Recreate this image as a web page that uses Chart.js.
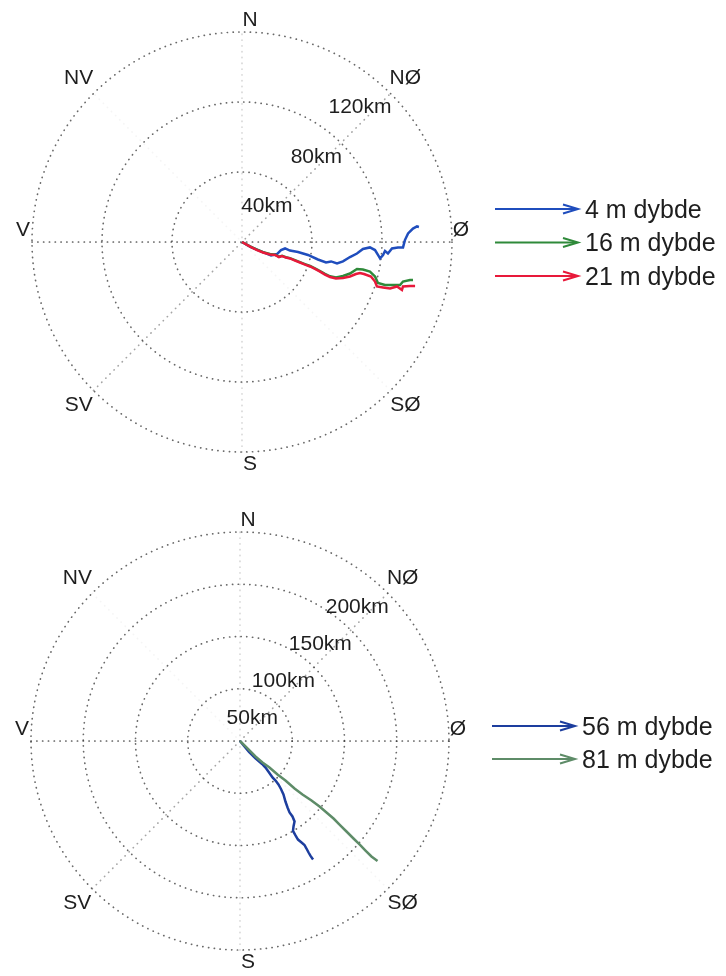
<!DOCTYPE html>
<html>
<head>
<meta charset="utf-8">
<script src="https://cdn.jsdelivr.net/npm/chart.js@4.4.1/dist/chart.umd.min.js"></script>
<style>
  html, body { margin: 0; padding: 0; background: #ffffff; }
  #wrap { position: relative; width: 726px; height: 976px; overflow: hidden; }
  canvas { position: absolute; left: 0; }
</style>
</head>
<body>
<div id="wrap">
  <canvas id="upper" width="726" height="490" style="top:0px"></canvas>
  <canvas id="lower" width="726" height="486" style="top:490px"></canvas>
</div>
<script>
// Compass directions, clockwise from north
const compassLabels = ['N', 'NØ', 'Ø', 'SØ', 'S', 'SV', 'V', 'NV'];

// ---- Upper panel: drift from the release point (km east, km north) ----
const upperRings = [40, 80, 120];
const upperNames = ['4 m dybde', '16 m dybde', '21 m dybde'];

const drift4mX = [0, 5.1, 10.9, 16.6, 20.0, 22.3, 24.6, 27.4, 32.0, 37.7, 43.4, 48.0, 50.9, 54.3, 57.7,
  61.7, 65.7, 69.1, 73.1, 76.0, 77.7, 78.9, 80.6, 81.7, 83.4, 85.7, 89.1, 92.0, 93.1, 94.9, 97.7, 100.0, 101.1];
const drift4mY = [0, -2.9, -5.4, -7.7, -6.9, -4.6, -3.7, -4.9, -5.7, -7.4, -10.0, -11.7, -11.1, -12.3, -11.1,
  -8.6, -6.6, -4.0, -3.1, -4.6, -7.4, -9.4, -7.4, -5.1, -6.6, -3.7, -3.1, -3.1, 1.1, 4.9, 7.7, 8.9, 8.6];

const drift16mX = [0, 4.6, 8.6, 12.0, 16.0, 18.9, 21.1, 22.9, 25.1, 27.4, 30.3, 33.1, 36.0, 38.9, 41.7,
  44.6, 47.4, 50.3, 53.7, 57.7, 61.7, 65.7, 69.1, 73.1, 76.0, 77.7, 81.7, 86.3, 90.3, 92.0, 96.0, 97.7];
const drift16mY = [0, -2.5, -4.4, -5.8, -6.9, -7.3, -8.4, -7.9, -8.7, -9.2, -10.4, -11.5, -12.6, -13.7, -15.1,
  -16.6, -18.2, -19.6, -20.3, -19.4, -18.0, -15.4, -15.7, -16.9, -19.7, -23.4, -24.6, -24.6, -24.6, -22.6, -21.7, -21.7];

const drift21mX = [0, 4.6, 8.6, 12.0, 16.0, 18.9, 21.1, 22.9, 25.1, 27.4, 30.3, 33.1, 36.0, 38.9, 41.7,
  44.6, 47.4, 50.3, 53.7, 57.7, 61.7, 65.1, 67.4, 69.7, 73.7, 76.0, 77.1, 80.6, 84.6, 88.6, 91.4, 92.0, 96.0, 98.9];
const drift21mY = [0, -2.6, -4.6, -6.0, -7.1, -7.4, -8.6, -8.0, -8.9, -9.4, -10.6, -11.7, -12.9, -14.0, -15.4,
  -16.9, -18.6, -20.0, -20.9, -20.6, -19.7, -18.3, -17.7, -18.3, -19.7, -22.6, -25.4, -26.0, -26.6, -25.4, -27.4, -25.4, -25.1, -25.1];

// ---- Lower panel ----
const lowerRings = [50, 100, 150, 200];
const lowerNames = ['56 m dybde', '81 m dybde'];

const drift56mX = [0, 4.3, 8.6, 14.8, 21.1, 24.4, 27.8, 31.1, 34.0, 36.8, 39.2, 41.6, 43.5, 45.5, 47.4,
  50.2, 52.2, 51.2, 50.7, 53.1, 55.5, 58.9, 61.7, 63.6, 65.6, 67.5, 69.9];
const drift56mY = [0, -5.3, -10.5, -16.7, -22.0, -25.4, -30.1, -34.9, -37.8, -41.6, -45.9, -51.2, -57.9, -63.6, -68.4,
  -72.2, -77.0, -81.8, -86.1, -90.4, -94.3, -97.1, -99.5, -102.9, -106.7, -110.0, -113.4];

const drift81mX = [0, 6.2, 14.8, 21.5, 28.2, 35.9, 43.5, 52.2, 59.8, 68.4, 76.1, 82.8, 89.5, 96.2, 101.9,
  108.6, 114.4, 120.1, 125.8, 131.6];
const drift81mY = [0, -6.2, -14.8, -20.6, -25.4, -32.1, -37.8, -45.5, -51.2, -56.9, -62.7, -68.4, -74.2, -80.9, -86.6,
  -93.3, -99.0, -104.8, -110.5, -114.8];

const FONT = '"Liberation Sans", Arial, Helvetica, sans-serif';

function toPoints(xs, ys) {
  return xs.map((x, i) => ({ x: x, y: ys[i] }));
}

// Polar frame: dotted range rings, spokes, compass and range labels, arrow legend
const polarFrame = {
  id: 'polarFrame',
  beforeDatasetsDraw(chart, args, opts) {
    const ctx = chart.ctx;
    const sx = chart.scales.x, sy = chart.scales.y;
    const cx = sx.getPixelForValue(0), cy = sy.getPixelForValue(0);
    const R = sx.getPixelForValue(opts.max) - cx;
    ctx.save();
    ctx.lineWidth = 1.7;
    ctx.lineCap = 'round';
    ctx.setLineDash([0.2, 5.6]);
    ctx.strokeStyle = 'rgba(55,55,55,0.75)';
    opts.rings.forEach(v => {
      const r = sx.getPixelForValue(v) - cx;
      ctx.beginPath();
      ctx.arc(cx, cy, r, 0, Math.PI * 2);
      ctx.stroke();
    });
    const spokes = [
      { deg: 0, a: 0.8 },
      { deg: 45, a: 0.45 },
      { deg: 90, a: 0.2 },
      { deg: 135, a: 0.05 }
    ];
    spokes.forEach(s => {
      const t = s.deg * Math.PI / 180;
      ctx.strokeStyle = 'rgba(55,55,55,' + s.a + ')';
      ctx.beginPath();
      ctx.moveTo(cx - R * Math.cos(t), cy + R * Math.sin(t));
      ctx.lineTo(cx + R * Math.cos(t), cy - R * Math.sin(t));
      ctx.stroke();
    });
    ctx.restore();
  },
  afterDraw(chart, args, opts) {
    const ctx = chart.ctx;
    const sx = chart.scales.x, sy = chart.scales.y;
    const cx = sx.getPixelForValue(0), cy = sy.getPixelForValue(0);
    const R = sx.getPixelForValue(opts.max) - cx;
    ctx.save();
    ctx.fillStyle = '#1e1e1e';
    ctx.font = '21px ' + FONT;
    ctx.textAlign = 'center';
    ctx.textBaseline = 'middle';
    // compass labels
    compassLabels.forEach((lab, i) => {
      const t = (90 - i * 45) * Math.PI / 180;
      const diag = i % 2 === 1;
      let d = R + (diag ? 21 : 12);
      if (lab === 'Ø' || lab === 'V') d = R + 9;
      let x = cx + d * Math.cos(t);
      let y = cy - d * Math.sin(t);
      if (lab === 'N' || lab === 'S') x += 8;
      if (lab === 'Ø' || lab === 'V') y -= 12;
      ctx.fillText(lab, x, y);
    });
    // range labels, right-aligned on the 45 degree spoke
    ctx.textAlign = 'right';
    opts.rings.forEach(v => {
      const r = sx.getPixelForValue(v) - cx;
      ctx.fillText(v + 'km', cx + r * Math.SQRT1_2 + 1, cy - r * Math.SQRT1_2 + 14);
    });
    // legend
    const lx0 = chart.chartArea.right + 43;
    const lx1 = lx0 + 83;
    ctx.textAlign = 'left';
    ctx.font = '25px ' + FONT;
    chart.data.datasets.forEach((ds, i) => {
      const y = cy + opts.legendTop + i * opts.legendStep;
      ctx.strokeStyle = ds.borderColor;
      ctx.lineWidth = 2;
      ctx.setLineDash([]);
      ctx.beginPath();
      ctx.moveTo(lx0, y);
      ctx.lineTo(lx1 - 2, y);
      ctx.stroke();
      ctx.beginPath();
      ctx.moveTo(lx1 - 15, y - 4.5);
      ctx.lineTo(lx1, y);
      ctx.lineTo(lx1 - 15, y + 4.5);
      ctx.stroke();
      ctx.fillStyle = '#1e1e1e';
      ctx.fillText(opts.names[i], lx1 + 7, y + 2);
    });
    ctx.restore();
  }
};

function lineSet(points, color, order) {
  return {
    data: points,
    borderColor: color,
    backgroundColor: color,
    borderWidth: 2.5,
    pointRadius: 0,
    showLine: true,
    fill: false,
    tension: 0,
    order: order
  };
}

function makePanel(id, datasets, rings, names, padding, legendTop, legendStep) {
  const max = rings[rings.length - 1];
  return new Chart(document.getElementById(id), {
    type: 'scatter',
    data: { datasets: datasets },
    options: {
      responsive: false,
      animation: false,
      devicePixelRatio: 1,
      layout: { padding: padding },
      scales: {
        x: { type: 'linear', min: -max, max: max, display: false },
        y: { type: 'linear', min: -max, max: max, display: false }
      },
      plugins: {
        legend: { display: false },
        tooltip: { enabled: false },
        polarFrame: { rings: rings, max: max, names: names, legendTop: legendTop, legendStep: legendStep }
      }
    },
    plugins: [polarFrame]
  });
}

makePanel('upper', [
  lineSet(toPoints(drift4mX, drift4mY), '#1f4dbd', 2),
  lineSet(toPoints(drift16mX, drift16mY), '#2f8a3a', 1),
  lineSet(toPoints(drift21mX, drift21mY), '#e8193a', 0)
], upperRings, upperNames, { left: 32, top: 32, right: 274, bottom: 38 }, -33, 33.5);

makePanel('lower', [
  lineSet(toPoints(drift56mX, drift56mY), '#1d3e9e', 1),
  lineSet(toPoints(drift81mX, drift81mY), '#5e8c68', 0)
], lowerRings, lowerNames, { left: 31, top: 42, right: 277, bottom: 26 }, -15, 33);
</script>
</body>
</html>
